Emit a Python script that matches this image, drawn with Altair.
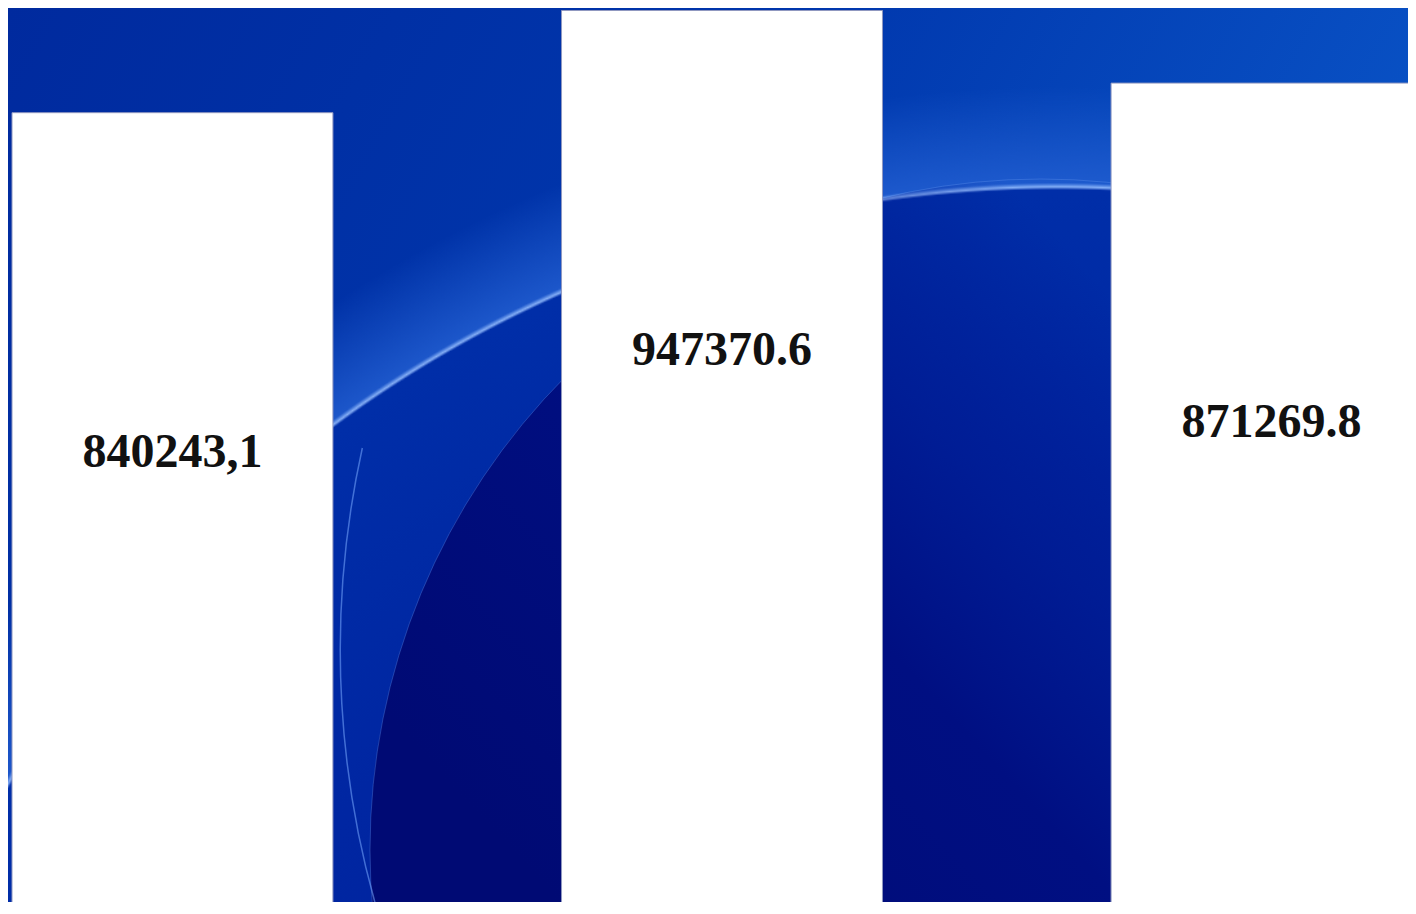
import altair as alt
import pandas as pd

categories = ["A", "B", "C"]
values = [840243.1, 947370.6, 871269.8]
labels = ["840243,1", "947370.6", "871269.8"]

df = pd.DataFrame({"cat": categories, "value": values, "label": labels})

W, H = 1400, 894
one = alt.Data(values=[{"k": 1}])

# --- decorative background (wallpaper-like blue swooshes) ---
bg = alt.Chart(one).mark_rect(
    fill=alt.LinearGradient(
        gradient="linear", x1=0, y1=0, x2=1, y2=0.35,
        stops=[
            alt.GradientStop(offset=0.0, color="#002a9e"),
            alt.GradientStop(offset=0.5, color="#0036ac"),
            alt.GradientStop(offset=1.0, color="#0a55c8"),
        ],
    )
).encode(x=alt.value(0), x2=alt.value(W), y=alt.value(0), y2=alt.value(H))

RA = 1320  # outer (glow) radius; the swoosh edge sits at 1220
swoosh_a = alt.Chart(one).mark_circle(
    opacity=1, clip=True,
    fill=alt.RadialGradient(
        gradient="radial", x1=0.5, y1=0.5, r1=0, x2=0.5, y2=0.5, r2=0.5,
        stops=[
            alt.GradientStop(offset=0.0, color="#001a90"),
            alt.GradientStop(offset=0.7, color="#0026a2"),
            alt.GradientStop(offset=0.922, color="#002ea8"),
            alt.GradientStop(offset=0.924, color="rgba(150,190,255,0.9)"),
            alt.GradientStop(offset=0.927, color="rgba(35,95,210,0.8)"),
            alt.GradientStop(offset=1.0, color="rgba(35,95,210,0)"),
        ],
    ),
).encode(x=alt.value(1049), y=alt.value(1399), size=alt.value(4 * RA * RA))

RB = 671
swoosh_b = alt.Chart(one).mark_circle(
    opacity=1, clip=True, stroke="rgba(110,160,245,0.3)", strokeWidth=1,
    fill=alt.LinearGradient(
        gradient="linear", x1=0.75, y1=0.0, x2=0.15, y2=0.55,
        stops=[
            alt.GradientStop(offset=0.25, color="rgba(0,20,140,0)"),
            alt.GradientStop(offset=0.45, color="rgba(0,22,140,0.6)"),
            alt.GradientStop(offset=0.62, color="#000f82"),
            alt.GradientStop(offset=1.0, color="#000a74"),
        ],
    ),
).encode(x=alt.value(1033), y=alt.value(842), size=alt.value(4 * RB * RB))

RC = 936
thin_line = alt.Chart(one).mark_arc(
    clip=True, color="rgba(120,170,255,0.55)",
    innerRadius=RC - 1, outerRadius=RC + 0.5,
    theta=4.38, theta2=4.93,
).encode(x=alt.value(1268), y=alt.value(642))

# --- data marks ---
xscale = alt.Scale(range=[4, 1424], paddingInner=0.416, paddingOuter=0)
yscale = alt.Scale(domain=[0, 950000], range=[906, 0], nice=False, zero=True)

bars = alt.Chart(df).mark_bar(
    color="white", clip=True, stroke="#9098c0", strokeWidth=1
).encode(
    x=alt.X("cat:N", scale=xscale, axis=None),
    y=alt.Y("value:Q", scale=yscale, axis=None),
)

text = alt.Chart(df).mark_text(
    font="Liberation Serif", fontWeight="bold", fontSize=48,
    color="#111111", baseline="middle", align="center", dy=340, clip=True
).encode(
    x=alt.X("cat:N", scale=xscale, axis=None),
    y=alt.Y("value:Q", scale=yscale, axis=None),
    text="label:N",
)

chart = alt.layer(bg, swoosh_a, swoosh_b, thin_line, bars, text).properties(
    width=W, height=H, padding=0,
    autosize=alt.AutoSizeParams(type="none"),
).configure_view(stroke=None, strokeWidth=0)

chart.save("out.html", embed_options={"renderer": "svg", "actions": False})
